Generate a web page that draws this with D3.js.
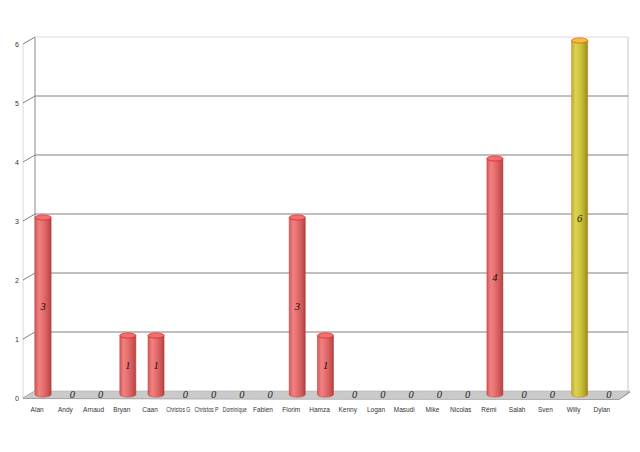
<!DOCTYPE html>
<html><head><meta charset="utf-8">
<script src="https://cdn.jsdelivr.net/npm/d3@7"></script>
<style>html,body{margin:0;padding:0;background:#fff;}svg{display:block;}</style>
</head><body>
<svg id="chart" width="640" height="452"></svg>
<script>
const categories = ["Alan","Andy","Arnaud","Bryan","Caan","Christos G","Christos P","Dominique","Fabien","Florim","Hamza","Kenny","Logan","Masudi","Mike","Nicolas","Rémi","Salah","Sven","Willy","Dylan"];
const values = [3,0,0,1,1,0,0,0,0,3,1,0,0,0,0,0,4,0,0,6,0];
const highlight = ["Willy"];
const yTicks = [0,1,2,3,4,5,6];

const svg = d3.select("#chart");
const DX = -12, DY = 7; // front offset from back plane
const x = d3.scaleBand().domain(categories).range([35, 628]).paddingInner(0).paddingOuter(0);
const y = d3.scaleLinear().domain([0, 6]).range([391, 37]);

const defs = svg.append("defs");
function grad(id, stops){
  const g = defs.append("linearGradient").attr("id", id).attr("x1","0%").attr("x2","100%").attr("y1","0%").attr("y2","0%");
  stops.forEach(s => g.append("stop").attr("offset", s[0]).attr("stop-color", s[1]));
}
grad("gRed", [["0%","#d85858"],["25%","#f08282"],["55%","#e46a6a"],["85%","#c85252"],["100%","#a84040"]]);
grad("gYel", [["0%","#b8b030"],["25%","#dcd450"],["55%","#ccc43c"],["85%","#aca428"],["100%","#8c8418"]]);

const wall = svg.append("g");
wall.append("line").attr("x1",35+DX).attr("x2",35+DX).attr("y1",y(6)+DY).attr("y2",y(0)+DY).attr("stroke","#d8d8d8");
wall.append("line").attr("x1",35).attr("x2",35).attr("y1",y(6)).attr("y2",y(0)).attr("stroke","#8a8a8a");
wall.append("line").attr("x1",628).attr("x2",628).attr("y1",y(6)).attr("y2",y(0)).attr("stroke","#c8c8c8");

yTicks.forEach(t => {
  if (t > 0) {
    wall.append("line").attr("x1",35).attr("x2",628).attr("y1",y(t)).attr("y2",y(t))
      .attr("stroke", t === 6 ? "#dcdcdc" : "#808080").attr("stroke-width", 1);
  }
  wall.append("line").attr("x1",35+DX).attr("x2",35).attr("y1",y(t)+DY).attr("y2",y(t))
    .attr("stroke","#808080");
  wall.append("text").attr("x",17).attr("y",y(t)+DY+3).attr("text-anchor","middle")
    .attr("font-family","Liberation Sans, Arial, sans-serif").attr("font-size",7).attr("fill","#333").text(t);
});

const fy = y(0);
wall.append("path").attr("d",`M35,${fy}L630,${fy}L${630+DX+1},${fy+DY+1}L${35+DX},${fy+DY}Z`).attr("fill","#cacaca");
wall.append("path").attr("d",`M${35+DX},${fy+DY}L${630+DX+1},${fy+DY+1}L${630+DX+1},${fy+DY+2}L${35+DX},${fy+DY+1}Z`).attr("fill","#a0a0a0");
wall.append("path").attr("d",`M630,${fy}L630,${fy+1.5}L${630+DX+1},${fy+DY+2}L${630+DX+1},${fy+DY+1}Z`).attr("fill","#8a8a8a");
wall.append("line").attr("x1",35).attr("x2",630).attr("y1",fy).attr("y2",fy).attr("stroke","#b0b0b0").attr("stroke-width",0.6);

const bw = 16, ry = 2.6;
const bars = svg.append("g");
categories.forEach((c, i) => {
  const v = values[i];
  const cx = x(c) + x.bandwidth()/2 + DX/2;
  const base = y(0) + DY/2;
  const top = y(v) + DY/2;
  const hl = highlight.includes(c);
  if (v > 0) {
    const g = bars.append("g");
    g.append("path")
      .attr("d",`M${cx-bw/2},${top}L${cx-bw/2},${base}A${bw/2},${ry} 0 0 0 ${cx+bw/2},${base}L${cx+bw/2},${top}Z`)
      .attr("fill", hl ? "url(#gYel)" : "url(#gRed)")
      .attr("stroke", hl ? "#e07820" : "#d04040").attr("stroke-width", 0.6);
    g.append("ellipse").attr("cx",cx).attr("cy",top).attr("rx",bw/2).attr("ry",ry)
      .attr("fill", hl ? "#f0c040" : "#f07070").attr("stroke", hl ? "#e06010" : "#e02828").attr("stroke-width",0.8);
    svg.append("text").attr("x",cx).attr("y",(top+base)/2+4).attr("text-anchor","middle")
      .attr("font-family","Liberation Serif, Times New Roman, serif").attr("font-style","italic")
      .attr("font-size",10.5).attr("fill","#111").text(v);
  } else {
    svg.append("text").attr("x",cx+1).attr("y",base+3).attr("text-anchor","middle")
      .attr("font-family","Liberation Serif, Times New Roman, serif").attr("font-style","italic")
      .attr("font-size",10.5).attr("fill","#222").text(v);
  }
  svg.append("text").attr("x", x(c) + x.bandwidth()/2 + DX).attr("y", 412)
    .attr("text-anchor","middle").attr("font-family","Liberation Sans, Arial, sans-serif")
    .attr("font-size",6.5).attr("fill","#333").attr("textLength", c.length > 8 ? 24 : null)
    .attr("lengthAdjust","spacingAndGlyphs").text(c);
});
</script>
</body></html>
